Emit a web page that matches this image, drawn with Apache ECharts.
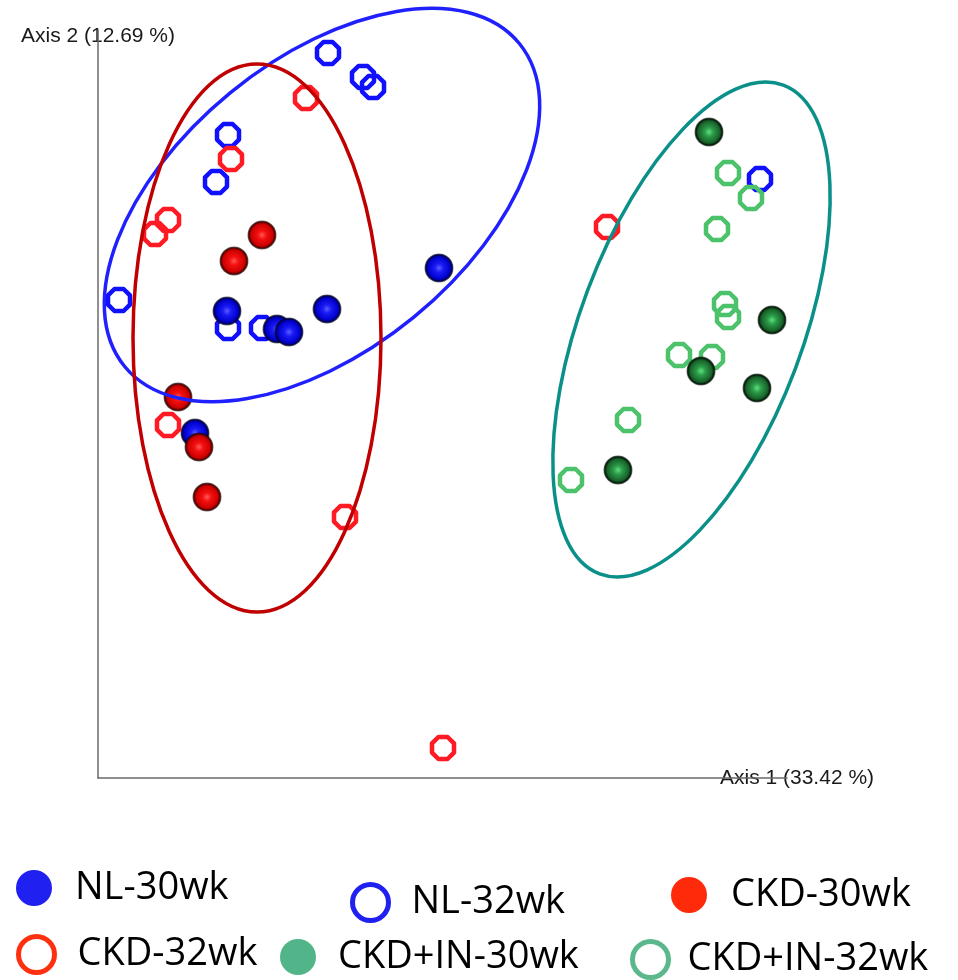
<!DOCTYPE html>
<html>
<head>
<meta charset="utf-8">
<script src="https://cdn.jsdelivr.net/npm/echarts@6/dist/echarts.min.js"></script>
<style>
  html, body { margin: 0; padding: 0; background: #fff; }
  #pcoa { width: 958px; height: 980px; }
</style>
</head>
<body>
<div id="pcoa"></div>
<script>
// PCoA coordinates [axis1, axis2]
const nl30 = [[0.091, 0.110], [-0.121, 0.067], [-0.071, 0.049], [-0.059, 0.046], [-0.021, 0.069], [-0.153, -0.055]]
const nl32 = [[-0.020, 0.325], [0.015, 0.301], [0.025, 0.291], [-0.120, 0.243], [-0.132, 0.196], [-0.229, 0.078], [-0.120, 0.050], [-0.086, 0.050], [0.412, 0.199]]
const ckd30 = [[-0.086, 0.143], [-0.114, 0.117], [-0.170, -0.019], [-0.149, -0.069], [-0.141, -0.119]]
const ckd32 = [[-0.042, 0.280], [-0.117, 0.219], [-0.180, 0.158], [-0.193, 0.144], [0.259, 0.151], [-0.180, -0.047], [-0.003, -0.139], [0.095, -0.370]]
const in30 = [[0.361, 0.246], [0.424, 0.058], [0.353, 0.007], [0.409, -0.010], [0.270, -0.092]]
const in32 = [[0.380, 0.205], [0.403, 0.180], [0.369, 0.149], [0.377, 0.074], [0.380, 0.061], [0.331, 0.023], [0.364, 0.021], [0.280, -0.042], [0.223, -0.102]]

// group ellipses: [centre x, centre y, semi axis 1, semi axis 2, rotation deg]
const ellipses = [
  [-0.026, 0.173, 0.255, 0.145, 39.3],
  [-0.091, 0.040, 0.124, 0.274, 0],
  [0.3435, 0.0485, 0.261, 0.111, 69.4]
]
const ellipseColors = ['#2020ff', '#c00000', '#0a9088']

const groupNames = ['NL-30wk', 'NL-32wk', 'CKD-30wk', 'CKD-32wk', 'CKD+IN-30wk', 'CKD+IN-32wk']
const axisNames = ['Axis 1 (33.42 %)', 'Axis 2 (12.69 %)']

const octagon = 'path://M96.2,30.9L69.1,3.8L30.9,3.8L3.8,30.9L3.8,69.1L30.9,96.2L69.1,96.2L96.2,69.1Z'

function sphere(light, mid, body, dark) {
  return new echarts.graphic.RadialGradient(0.5, 0.5, 0.5, [
    { offset: 0, color: light },
    { offset: 0.3, color: mid },
    { offset: 0.76, color: body },
    { offset: 0.9, color: dark },
    { offset: 1, color: 'rgba(0,0,0,0.55)' }
  ])
}

function filled(name, data, fill) {
  return {
    name: name, type: 'scatter', data: data, clip: false, z: 4,
    symbol: 'circle', symbolSize: 29,
    itemStyle: { color: fill, opacity: 1 }
  }
}
function hollow(name, data, col) {
  return {
    name: name, type: 'scatter', data: data, clip: false, z: 3,
    symbol: octagon, symbolSize: 22,
    itemStyle: { color: 'rgba(0,0,0,0)', borderColor: col, borderWidth: 4.5, borderJoin: 'round', opacity: 1 }
  }
}

// one legend box per item, to keep the staggered layout
const legendSpots = [
  { left: 16, top: 869, pad: 18, icon: { color: '#2020f0' } },
  { left: 350, top: 882, pad: 18, icon: { color: '#fff', borderColor: '#2020f0', borderWidth: 5 } },
  { left: 671, top: 876, pad: 19, icon: { color: '#ff2a0a' } },
  { left: 16, top: 934, pad: 18, icon: { color: '#fff', borderColor: '#ff3010', borderWidth: 5 } },
  { left: 280, top: 938, pad: 17, icon: { color: '#52b589' } },
  { left: 630, top: 939, pad: 14, icon: { color: '#fff', borderColor: '#5ab88c', borderWidth: 5 } }
]

const legends = legendSpots.map((s, i) => ({
  left: s.left, top: s.top, padding: 0,
  orient: 'horizontal', selectedMode: false,
  itemWidth: 36, itemHeight: 36,
  data: [{ name: groupNames[i], icon: 'circle', itemStyle: s.icon }],
  textStyle: { fontFamily: 'Open Sans', fontSize: 38, color: '#000', padding: [18, 0, 0, s.pad] }
}))

const option = {
  backgroundColor: '#fff',
  animation: false,
  grid: { left: 98, top: 30, right: 171, bottom: 202 },
  legend: legends,
  xAxis: {
    type: 'value', min: -0.25, max: 0.439,
    name: axisNames[0], nameLocation: 'end', nameGap: -67,
    nameTextStyle: { fontFamily: 'Liberation Sans', fontSize: 21, color: '#1a1a1a', align: 'left', verticalAlign: 'middle' },
    axisLine: { show: true, onZero: false, lineStyle: { color: '#6a6a6a', width: 1.5 } },
    axisTick: { show: false }, axisLabel: { show: false }, splitLine: { show: false }
  },
  yAxis: {
    type: 'value', min: -0.40, max: 0.348,
    name: axisNames[1], nameLocation: 'end', nameGap: -6,
    nameTextStyle: { fontFamily: 'Liberation Sans', fontSize: 21, color: '#1a1a1a', align: 'center', verticalAlign: 'middle' },
    axisLine: { show: true, onZero: false, lineStyle: { color: '#6a6a6a', width: 1.5 } },
    axisTick: { show: false }, axisLabel: { show: false }, splitLine: { show: false }
  },
  series: [
    hollow(groupNames[1], nl32, '#1010ff'),
    hollow(groupNames[3], ckd32, '#ff1a24'),
    hollow(groupNames[5], in32, '#4cc26a'),
    filled(groupNames[0], nl30, sphere('#5c5cff', '#1a1af5', '#0000cc', '#000050')),
    filled(groupNames[2], ckd30, sphere('#ff5a5a', '#f51010', '#cc0000', '#500000')),
    filled(groupNames[4], in30, sphere('#5ee07c', '#2c9c4a', '#176028', '#021c08')),
    {
      type: 'custom', z: 6, clip: false,
      data: ellipses,
      renderItem: function (params, api) {
        const c = api.coord([api.value(0), api.value(1)])
        const s = api.size([api.value(2), api.value(3)])
        return {
          type: 'ellipse',
          x: c[0], y: c[1],
          rotation: api.value(4) * Math.PI / 180,
          shape: { cx: 0, cy: 0, rx: s[0], ry: s[1] },
          style: { fill: 'none', stroke: ellipseColors[params.dataIndex], lineWidth: 3.5 }
        }
      }
    }
  ]
}

const chart = echarts.init(document.getElementById('pcoa'))
chart.setOption(option)
</script>
</body>
</html>
